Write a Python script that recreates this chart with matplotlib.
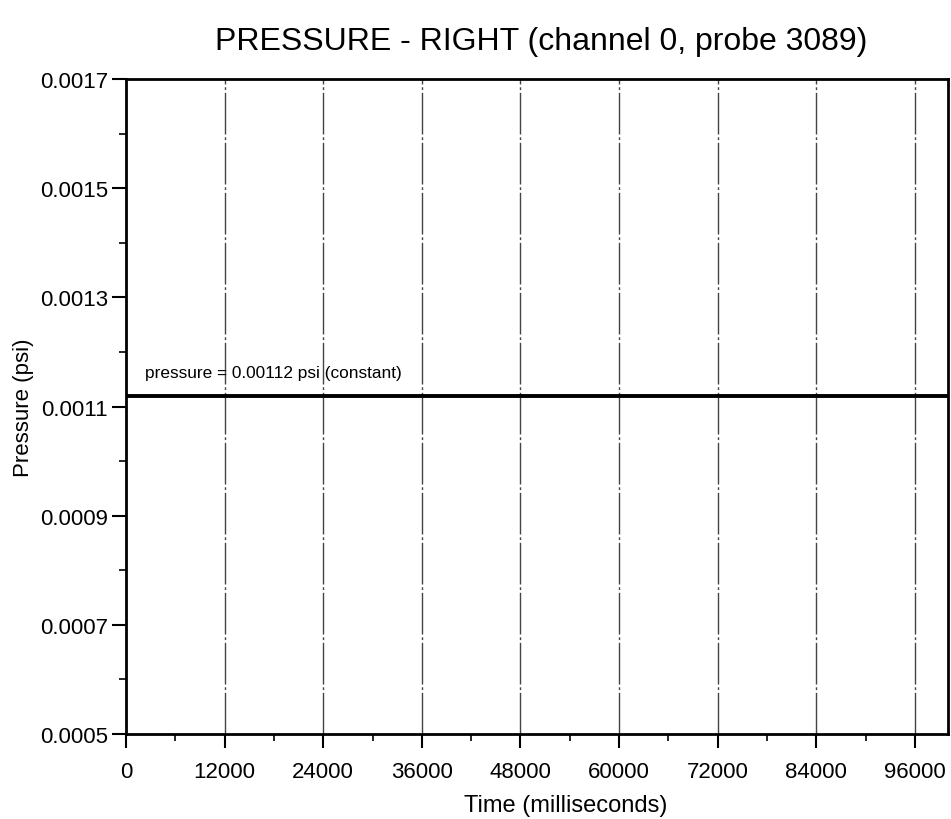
import matplotlib
matplotlib.use('Agg')
import matplotlib.pyplot as plt
from matplotlib.ticker import MultipleLocator, FormatStrFormatter

# constant pressure trace
time_ms = [0, 100000]
pressure = [0.00112, 0.00112]
x_ticks = [0, 12000, 24000, 36000, 48000, 60000, 72000, 84000, 96000]
y_ticks = [0.0005, 0.0007, 0.0009, 0.0011, 0.0013, 0.0015, 0.0017]

plt.rcParams['font.family'] = ['Liberation Sans', 'DejaVu Sans']

fig = plt.figure(figsize=(9.51, 8.2), dpi=100)
ax = fig.add_axes([0.1325, 0.104, 0.864, 0.798])

for xt in x_ticks[1:]:
    ax.axvline(xt, color='#444444', linewidth=1.0, linestyle='-.', dashes=(30, 2, 2, 2), zorder=1)

ax.plot(time_ms, pressure, color='black', linewidth=2.8, zorder=3)
ax.text(2300, 0.001155, 'pressure = 0.00112 psi (constant)', fontsize=12.4, color='black')

ax.set_xlim(0, 100000)
ax.set_ylim(0.0005, 0.0017)
ax.set_xticks(x_ticks)
ax.set_yticks(y_ticks)
ax.yaxis.set_major_formatter(FormatStrFormatter('%.4f'))
ax.xaxis.set_minor_locator(MultipleLocator(6000))
ax.yaxis.set_minor_locator(MultipleLocator(0.0001))
ax.tick_params(which='major', direction='out', length=10, width=1.5, labelsize=16)
ax.tick_params(which='minor', direction='out', length=5, width=1.2)
ax.tick_params(axis='x', which='major', pad=10)
ax.tick_params(axis='y', which='major', pad=3)

for s in ax.spines.values():
    s.set_linewidth(2)

ax.set_xlabel('Time (milliseconds)', fontsize=17, labelpad=8, x=0.535)
ax.set_ylabel('Pressure (psi)', fontsize=16, labelpad=4)
fig.suptitle('PRESSURE - RIGHT (channel 0, probe 3089)', fontsize=23, x=0.569, y=0.967)

plt.savefig('out.png', dpi=100)
plt.close()
